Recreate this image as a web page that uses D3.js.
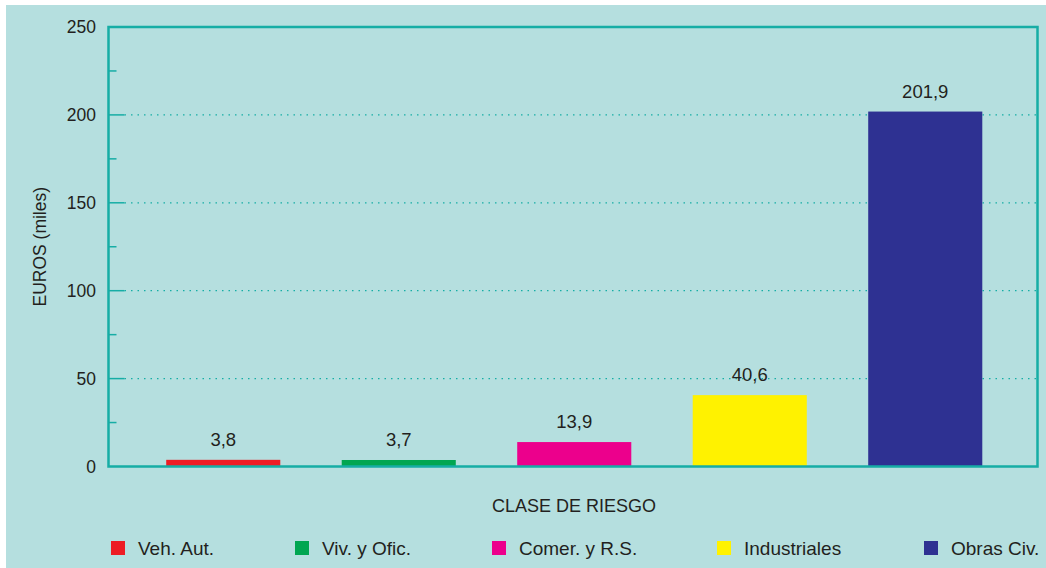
<!DOCTYPE html>
<html>
<head>
<meta charset="utf-8">
<script src="https://cdn.jsdelivr.net/npm/d3@7"></script>
<style>
  html, body { margin: 0; padding: 0; background: #ffffff; }
  svg { display: block; font-family: "Liberation Sans", Arial, Helvetica, sans-serif; }
</style>
</head>
<body>
<svg id="chart" width="1046" height="568"></svg>
<script>
// Siniestralidad por clase de riesgo (miles de euros)
const categories = ["Veh. Aut.", "Viv. y Ofic.", "Comer. y R.S.", "Industriales", "Obras Civ."];
const values = [3.8, 3.7, 13.9, 40.6, 201.9];
const valueLabels = ["3,8", "3,7", "13,9", "40,6", "201,9"];
const colors = ["#ed1c24", "#00a651", "#ec008c", "#fff200", "#2e3192"];
const majorTicks = [0, 50, 100, 150, 200, 250];
const minorTicks = [25, 75, 125, 175, 225];

const svg = d3.select("#chart");
const frameColor = "#16ada5";
const textColor = "#231f20";
const fs = 17.5;

// panel background
svg.append("rect").attr("x", 6).attr("y", 5).attr("width", 1040).attr("height", 563).attr("fill", "#b5dfdf");

const plot = { left: 108.5, right: 1037.5, top: 27, bottom: 466.5 };

const y = d3.scaleLinear().domain([0, 250]).range([plot.bottom, plot.top]);
const x = d3.scaleBand().domain(categories).range([135.5, 1013]).paddingInner(0.35).paddingOuter(0.175);

// dotted gridlines
svg.append("g").selectAll("line").data(majorTicks.filter(d => d > 0 && d < 250)).join("line")
  .attr("x1", plot.left + 16).attr("x2", plot.right)
  .attr("y1", d => y(d)).attr("y2", d => y(d))
  .attr("stroke", frameColor).attr("stroke-width", 1.3)
  .attr("stroke-dasharray", "1.5,5");

// bars
svg.append("g").selectAll("rect").data(values).join("rect")
  .attr("x", (d, i) => x(categories[i]))
  .attr("width", x.bandwidth())
  .attr("y", d => y(d))
  .attr("height", d => y(0) - y(d))
  .attr("fill", (d, i) => colors[i]);

// value labels
svg.append("g").selectAll("text").data(values).join("text")
  .attr("x", (d, i) => x(categories[i]) + x.bandwidth() / 2)
  .attr("y", d => y(d) - 14)
  .attr("text-anchor", "middle")
  .attr("font-size", 18.5)
  .attr("fill", textColor)
  .text((d, i) => valueLabels[i]);

// frame
svg.append("rect")
  .attr("x", plot.left).attr("y", plot.top)
  .attr("width", plot.right - plot.left).attr("height", plot.bottom - plot.top)
  .attr("fill", "none").attr("stroke", frameColor).attr("stroke-width", 2.5);

// y axis ticks (inside)
svg.append("g").selectAll("line").data(majorTicks.filter(d => d > 0 && d < 250)).join("line")
  .attr("x1", plot.left).attr("x2", plot.left + 16)
  .attr("y1", d => y(d)).attr("y2", d => y(d))
  .attr("stroke", frameColor).attr("stroke-width", 1.5);
svg.append("g").selectAll("line").data(minorTicks).join("line")
  .attr("x1", plot.left).attr("x2", plot.left + 8)
  .attr("y1", d => y(d)).attr("y2", d => y(d))
  .attr("stroke", frameColor).attr("stroke-width", 1.5);

// y tick labels
svg.append("g").selectAll("text").data(majorTicks).join("text")
  .attr("x", 96).attr("y", d => y(d))
  .attr("dy", "0.35em")
  .attr("text-anchor", "end")
  .attr("font-size", fs)
  .attr("fill", textColor)
  .text(d => d);

// axis titles
svg.append("text")
  .attr("transform", `translate(46, ${(plot.top + plot.bottom) / 2}) rotate(-90)`)
  .attr("text-anchor", "middle")
  .attr("font-size", 17.5)
  .attr("fill", textColor)
  .text("EUROS (miles)");

svg.append("text")
  .attr("x", 574).attr("y", 512)
  .attr("text-anchor", "middle")
  .attr("font-size", 18)
  .attr("fill", textColor)
  .text("CLASE DE RIESGO");

// legend
const legendX = [111, 295, 492, 717, 924];
const lg = svg.append("g").selectAll("g").data(categories).join("g")
  .attr("transform", (d, i) => `translate(${legendX[i]}, 541)`);
lg.append("rect").attr("width", 14).attr("height", 14).attr("fill", (d, i) => colors[i]);
lg.append("text").attr("x", 27).attr("y", 7).attr("dy", "0.35em")
  .attr("font-size", 19).attr("fill", textColor).text(d => d);
</script>
</body>
</html>
